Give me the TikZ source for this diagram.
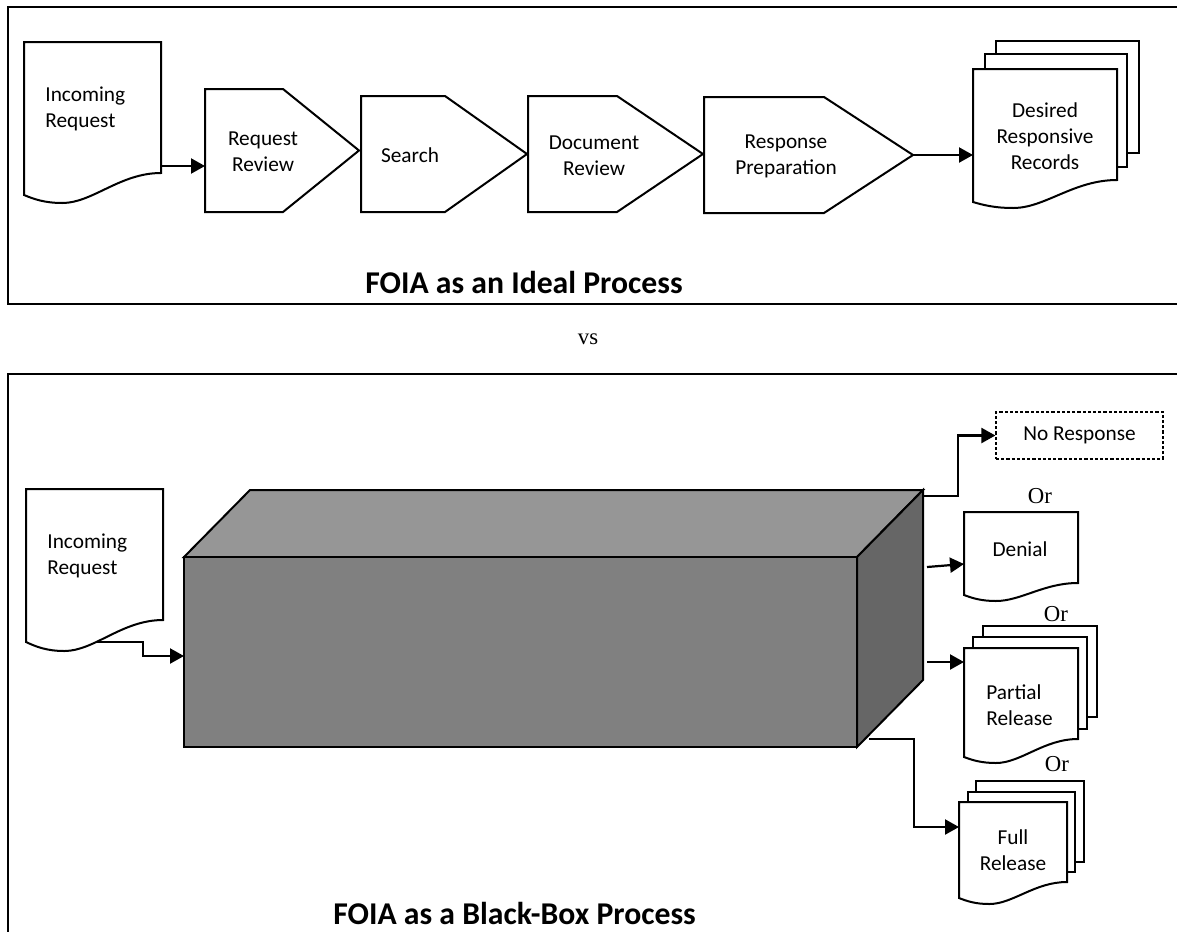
\documentclass[tikz,border=0pt]{standalone}
\usepackage{fontspec}
\setmainfont{Carlito}
\newfontfamily\timesfont{Liberation Serif}
\usetikzlibrary{arrows.meta}
\definecolor{topface}{HTML}{969696}
\definecolor{frontface}{HTML}{808080}
\definecolor{sideface}{HTML}{666666}
\tikzset{
  shp/.style={draw=black, line width=1pt, fill=white, line join=miter},
  conn/.style={draw=black, line width=1.1pt, -{Triangle[length=7pt,width=7.5pt]}},
  lbl/.style={font=\fontsize{10.65}{12.9}\selectfont, align=center, inner sep=0pt},
  lbll/.style={lbl, align=left},
  bigtitle/.style={font=\fontsize{15.85}{19}\selectfont\bfseries, inner sep=0pt},
  ortext/.style={font=\timesfont\fontsize{11.4}{13}\selectfont, inner sep=0pt},
  framebox/.style={draw=black, line width=1pt},
  dashbox/.style={draw=black, line width=0.6pt, dash pattern=on 1.6pt off 1pt, fill=white,
     minimum width=83.5pt, minimum height=23.5pt, inner sep=0pt, font=\fontsize{10.65}{12.9}\selectfont}
}
% document shape: left, top, right, right-bottom y, left-bottom y, trough depth
\newcommand\foiadoc[6]{%
  \path[shp] (#1,#2) -- (#3,#2) -- (#3,#4)
    .. controls ({#3-0.3*(#3-#1)},#4) and ({#1+0.5*(#3-#1)},{#5+#6}) .. ({#1+0.28*(#3-#1)},{#5+#6})
    .. controls ({#1+0.15*(#3-#1)},{#5+#6}) and ({#1+0.07*(#3-#1)},{#5+0.5*#6}) .. (#1,#5) -- cycle;}
\begin{document}
\begin{tikzpicture}[x=0.5pt, y=-0.5pt]
\useasboundingbox (0,0) rectangle (1177,932);

% frames
\draw[framebox] (1177,7) -- (8,7) -- (8,304) -- (1177,304);
\draw[framebox] (1177,374) -- (8,374) -- (8,932);

% ---------- Ideal process ----------
\foiadoc{24}{42}{161}{173}{195}{8}
\node[lbll, anchor=west] (inreq1) at (45,109) {Incoming\\Request};

\path[shp] (205,89) -- (283,89) -- (359,150.5) -- (283,212) -- (205,212) -- cycle;
\node[lbl] (rr) at (263,152) {Request\\Review};

\path[shp] (361,96) -- (445,96) -- (527,154) -- (445,212) -- (361,212) -- cycle;
\node[lbl] (search) at (410,155) {Search};

\path[shp] (528,96) -- (617,96) -- (703,154) -- (617,212) -- (528,212) -- cycle;
\node[lbl] (docrev) at (594,156) {Document\\Review};

\path[shp] (704,97) -- (824,97) -- (913,155) -- (824,213) -- (704,213) -- cycle;
\node[lbl] (resprep) at (786,156) {Response\\Preparation};

\path[shp] (996,41) rectangle (1139,153);
\path[shp] (985,54) rectangle (1127,167);
\foiadoc{973}{69}{1117}{180}{202}{6}
\node[lbl] (desired) at (1045,136) {Desired\\Responsive\\Records};

\coordinate (inreq1out) at (161,166);
\coordinate (rrin) at (205,166);
\coordinate (rpout) at (913,155);
\coordinate (desiredin) at (973,155);
\draw[conn] (inreq1out) -- (rrin);
\draw[conn] (rpout) -- (desiredin);

\node[bigtitle] (title1) at (524,282) {FOIA as an Ideal Process};

\node[font=\timesfont\fontsize{11.4}{13}\selectfont, inner sep=0pt] (vs) at (588,339) {vs};

% ---------- Black box process ----------
\foiadoc{26}{489}{163}{620}{642}{9}
\node[lbll, anchor=west] (inreq2) at (47,556) {Incoming\\Request};

\path[draw=black, line width=1pt, fill=topface] (184,557) -- (250,490) -- (923,490) -- (857,557) -- cycle;
\path[draw=black, line width=1pt, fill=frontface] (184,557) rectangle (857,747);
\path[draw=black, line width=1pt, fill=sideface] (857,557) -- (923,490) -- (923,680) -- (857,747) -- cycle;

\coordinate (inreq2out) at (97,642);
\coordinate (boxin) at (184,656);
\draw[conn] (inreq2out) -- (143,642) |- (boxin);

\node[dashbox] (noresp) at (1079.5,435.5) {No Response};
\node[ortext] (or1) at (1040,496) {Or};

\foiadoc{964}{512}{1078}{583}{595}{6}
\node[lbl] (denial) at (1020,549) {Denial};
\node[ortext] (or2) at (1056,614) {Or};

\path[shp] (983,626) rectangle (1097,717);
\path[shp] (973,637) rectangle (1087,729);
\foiadoc{964}{648}{1078}{739}{757}{6}
\node[lbll, anchor=west] (partial) at (986,705) {Partial\\Release};
\node[ortext] (or3) at (1057,764) {Or};

\path[shp] (976,781) rectangle (1084,862);
\path[shp] (968,792) rectangle (1075,872);
\foiadoc{959}{802}{1067}{882}{898}{6}
\node[lbl] (full) at (1013,850) {Full\\Release};

\coordinate (boxtop) at (923,496);
\coordinate (boxd) at (927,567);
\coordinate (denialin) at (964,564);
\coordinate (boxp) at (927,662);
\coordinate (partialin) at (964,662);
\coordinate (boxbot) at (869,739);
\coordinate (fullin) at (959,827);
\draw[conn] (boxtop) -- (958,496) |- (noresp.west);
\draw[conn] (boxd) -- (denialin);
\draw[conn] (boxp) -- (partialin);
\draw[conn] (boxbot) -- (914,739) |- (fullin);

\node[bigtitle, anchor=west] (title2) at (333,913) {FOIA as a Black-Box Process};
\end{tikzpicture}
\end{document}
